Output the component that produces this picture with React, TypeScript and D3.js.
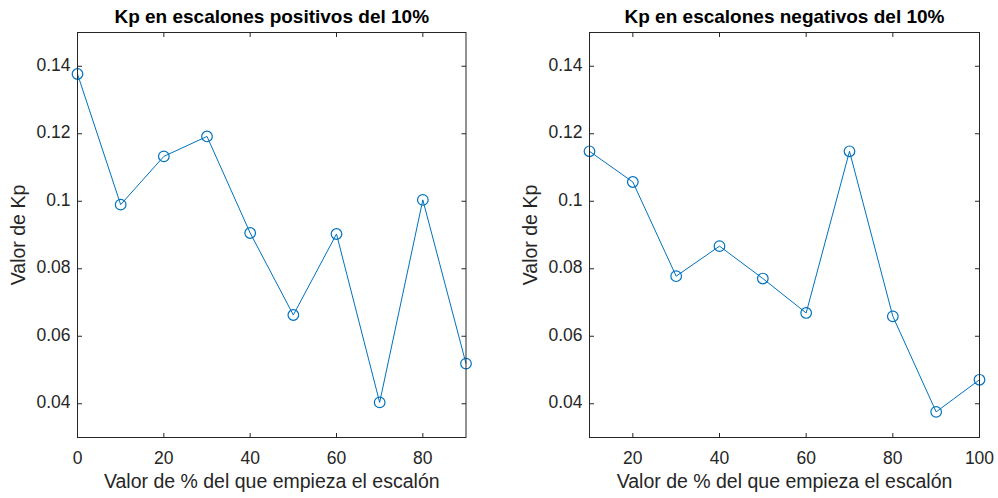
import React from "react";
import * as d3 from "d3";

const xPos = [0, 10, 20, 30, 40, 50, 60, 70, 80, 90];
const kpPos = [0.1377, 0.099, 0.1133, 0.1192, 0.0906, 0.0663, 0.0903, 0.0404, 0.1004, 0.0519];
const xNeg = [10, 20, 30, 40, 50, 60, 70, 80, 90, 100];
const kpNeg = [0.1148, 0.1057, 0.0778, 0.0867, 0.0771, 0.0669, 0.1148, 0.0659, 0.0376, 0.0471];
const yTicks = [0.04, 0.06, 0.08, 0.1, 0.12, 0.14];
const xTicksPos = [0, 20, 40, 60, 80];
const xTicksNeg = [20, 40, 60, 80, 100];

const FONT = "'Liberation Sans', Arial, Helvetica, sans-serif";
const AX = "#262626";
const LINE = "#0072BD";

type PanelProps = {
  left: number; right: number; top: number; bottom: number;
  xDomain: [number, number]; xs: number[]; ys: number[]; xTicks: number[];
  title: string; ylabelX: number;
};

function Panel(p: PanelProps) {
  const x = d3.scaleLinear().domain(p.xDomain).range([p.left, p.right]);
  const y = d3.scaleLinear().domain([0.03, 0.15]).range([p.bottom, p.top]);
  const line = d3.line<number>().x((_, i) => x(p.xs[i])).y((d) => y(d));
  const tl = 4.5;
  const cx = (p.left + p.right) / 2;
  return (
    <g fontFamily={FONT}>
      <path d={line(p.ys) || ""} fill="none" stroke={LINE} strokeWidth={1} />
      {p.ys.map((v, i) => (
        <circle key={i} cx={x(p.xs[i])} cy={y(v)} r={5.3} fill="none" stroke={LINE} strokeWidth={1.2} />
      ))}
      <rect x={p.left} y={p.top} width={p.right - p.left} height={p.bottom - p.top} fill="none" stroke={AX} strokeWidth={1} />
      {p.xTicks.map((t) => (
        <g key={"x" + t}>
          <line x1={x(t)} x2={x(t)} y1={p.bottom} y2={p.bottom - tl} stroke={AX} />
          <line x1={x(t)} x2={x(t)} y1={p.top} y2={p.top + tl} stroke={AX} />
          <text x={x(t)} y={p.bottom + 22} fontSize={17.5} fill={AX} textAnchor="middle" dominantBaseline="middle">{t}</text>
        </g>
      ))}
      {yTicks.map((t) => (
        <g key={"y" + t}>
          <line x1={p.left} x2={p.left + tl} y1={y(t)} y2={y(t)} stroke={AX} />
          <line x1={p.right} x2={p.right - tl} y1={y(t)} y2={y(t)} stroke={AX} />
          <text x={p.left - 7} y={y(t)} fontSize={17.5} fill={AX} textAnchor="end" dominantBaseline="middle">{String(t)}</text>
        </g>
      ))}
      <text x={cx} y={p.bottom + 45} fontSize={19.5} fill={AX} textAnchor="middle" dominantBaseline="middle">
        Valor de % del que empieza el escalón
      </text>
      <text transform={`translate(${p.ylabelX},${(p.top + p.bottom) / 2}) rotate(-90)`} fontSize={19.5} fill={AX} textAnchor="middle" dominantBaseline="middle">
        Valor de Kp
      </text>
      <text x={cx} y={p.top - 15} fontSize={19} fontWeight="bold" fill="#000" textAnchor="middle" dominantBaseline="middle">
        {p.title}
      </text>
    </g>
  );
}

export default function App() {
  return (
    <svg width={998} height={498} style={{ position: "absolute", left: 0, top: 0, background: "#fff" }}>
      <rect width={998} height={498} fill="#fff" />
      <Panel left={77.5} right={466} top={32.5} bottom={437.5} xDomain={[0, 90]} xs={xPos} ys={kpPos} xTicks={xTicksPos}
        title="Kp en escalones positivos del 10%" ylabelX={20} />
      <Panel left={589.5} right={979.5} top={32.5} bottom={437.5} xDomain={[10, 100]} xs={xNeg} ys={kpNeg} xTicks={xTicksNeg}
        title="Kp en escalones negativos del 10%" ylabelX={532} />
    </svg>
  );
}
